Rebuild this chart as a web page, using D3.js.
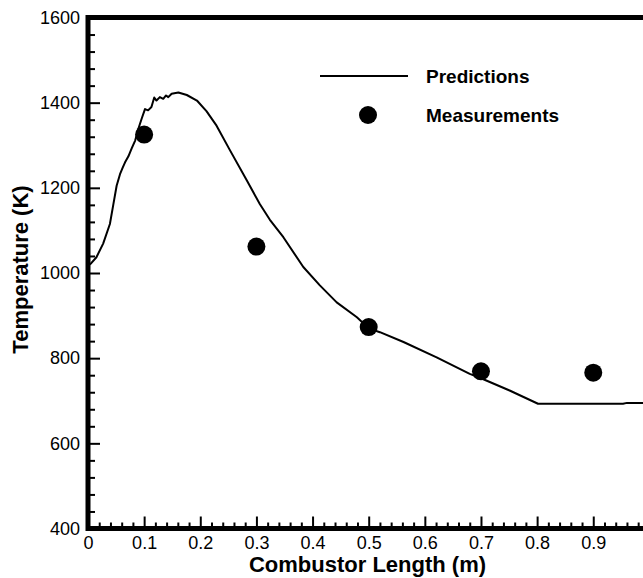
<!DOCTYPE html>
<html>
<head>
<meta charset="utf-8">
<script src="https://cdn.jsdelivr.net/npm/d3@7"></script>
<style>
  body { margin: 0; background: #fff; }
  svg { display: block; font-family: "Liberation Sans", Arial, sans-serif; }
  .tick text { font-size: 18px; fill: #000; }
  .tick line { stroke: #000; stroke-width: 2px; }
</style>
</head>
<body>
<div id="chart"></div>
<script>
// Predicted temperature along the combustor
var predX = [0, 0.005, 0.015, 0.027, 0.039, 0.045, 0.051, 0.057, 0.062, 0.066, 0.072, 0.078, 0.084, 0.090,
  0.096, 0.1015, 0.107, 0.113, 0.118, 0.122, 0.128, 0.134, 0.139, 0.143, 0.149, 0.161, 0.176, 0.194,
  0.211, 0.229, 0.253, 0.283, 0.306, 0.324, 0.348, 0.3835, 0.413, 0.443, 0.479, 0.5, 0.52, 0.562,
  0.621, 0.68, 0.698, 0.751, 0.8016, 0.88, 0.953, 0.96, 1.0];
var predT = [1018, 1022, 1037, 1069, 1115, 1160, 1205, 1232, 1248, 1260, 1274, 1293, 1311, 1340,
  1364, 1385, 1382, 1390, 1412, 1405, 1413, 1409, 1417, 1413, 1421, 1424, 1418, 1405,
  1380, 1346, 1288, 1217, 1162, 1125, 1084, 1014, 971, 931, 896, 870, 861, 838,
  802, 763, 754, 724, 693, 693, 693, 695, 695];

// Measured temperatures
var measX = [0.1, 0.3, 0.5, 0.7, 0.9];
var measT = [1325, 1062, 873, 769, 766];

// Axis ticks
var xMajor = [0, 0.1, 0.2, 0.3, 0.4, 0.5, 0.6, 0.7, 0.8, 0.9];
var yMajor = [400, 600, 800, 1000, 1200, 1400, 1600];

var svgWidth = 643;
var svgHeight = 578;
var margin = {top: 17.5, left: 88};
var width = 561.4;
var height = 511;

var svg = d3.select("#chart")
  .append("svg")
  .attr("width", svgWidth)
  .attr("height", svgHeight);

var g = svg.append("g")
  .attr("transform", `translate(${margin.left}, ${margin.top})`);

var x = d3.scaleLinear().domain([0, 1]).range([0, width]);
var y = d3.scaleLinear().domain([400, 1600]).range([height, 0]);

// minor ticks
var xMinor = d3.range(0, 50).map(i => i * 0.02).filter(v => Math.abs(v * 10 - Math.round(v * 10)) > 1e-6);
var yMinor = d3.range(400, 1600, 40).filter(v => v % 200 !== 0);

g.append("g")
  .attr("transform", `translate(0, ${height})`)
  .call(d3.axisBottom(x).tickValues(xMinor).tickSize(-6).tickFormat(""))
  .call(a => a.select(".domain").remove());

g.append("g")
  .call(d3.axisLeft(y).tickValues(yMinor).tickSize(-7).tickFormat(""))
  .call(a => a.select(".domain").remove());

// major ticks
g.append("g")
  .attr("transform", `translate(0, ${height})`)
  .call(d3.axisBottom(x).tickValues(xMajor).tickSize(-12).tickPadding(8).tickFormat(d => d === 0 ? "0" : d3.format(".1f")(d)))
  .call(a => a.select(".domain").remove());

g.append("g")
  .call(d3.axisLeft(y).tickValues(yMajor).tickSize(-12).tickPadding(8).tickFormat(d3.format("d")))
  .call(a => a.select(".domain").remove());

// frame
g.append("rect")
  .attr("x", 0)
  .attr("y", 0)
  .attr("width", width)
  .attr("height", height)
  .attr("fill", "none")
  .attr("stroke", "#000")
  .attr("stroke-width", 5);

// prediction line
var line = d3.line()
  .x((d, i) => x(predX[i]))
  .y(d => y(d));

g.append("path")
  .datum(predT)
  .attr("d", line)
  .attr("fill", "none")
  .attr("stroke", "#000")
  .attr("stroke-width", 2)
  .attr("stroke-linejoin", "round");

// measurements
g.selectAll("circle.meas")
  .data(measT)
  .enter()
  .append("circle")
  .classed("meas", true)
  .attr("cx", (d, i) => x(measX[i]))
  .attr("cy", d => y(d))
  .attr("r", 9)
  .attr("fill", "#000");

// legend
svg.append("line")
  .attr("x1", 320).attr("x2", 408)
  .attr("y1", 76).attr("y2", 76)
  .attr("stroke", "#000")
  .attr("stroke-width", 2);

svg.append("text")
  .attr("x", 426).attr("y", 82.7)
  .style("font-size", "19px")
  .style("font-weight", "bold")
  .text("Predictions");

svg.append("circle")
  .attr("cx", 368).attr("cy", 115)
  .attr("r", 9)
  .attr("fill", "#000");

svg.append("text")
  .attr("x", 426).attr("y", 121.7)
  .style("font-size", "19px")
  .style("font-weight", "bold")
  .text("Measurements");

// axis titles
svg.append("text")
  .attr("x", 367.5).attr("y", 572)
  .style("text-anchor", "middle")
  .style("font-size", "22px")
  .style("font-weight", "bold")
  .text("Combustor Length (m)");

svg.append("text")
  .attr("transform", "translate(28, 269.5) rotate(-90)")
  .style("text-anchor", "middle")
  .style("font-size", "22px")
  .style("font-weight", "bold")
  .text("Temperature (K)");
</script>
</body>
</html>
